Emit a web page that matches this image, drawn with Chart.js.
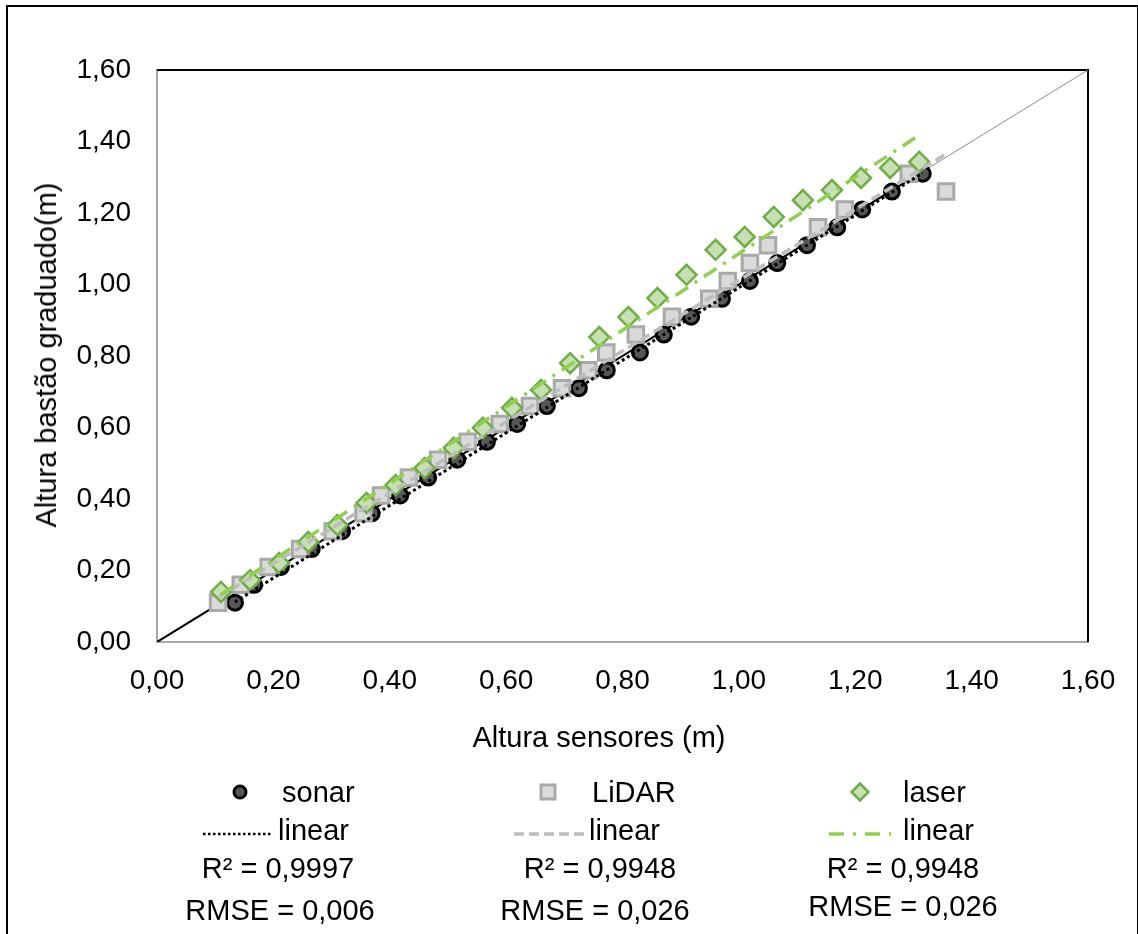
<!DOCTYPE html>
<html>
<head>
<meta charset="utf-8">
<script src="https://cdn.jsdelivr.net/npm/chart.js@4.4.1/dist/chart.umd.min.js"></script>
<style>
  body { margin: 0; background: #fff; font-family: "Liberation Sans", Arial, sans-serif; }
  #wrap { position: relative; width: 1138px; height: 934px; overflow: hidden; }
  #frame { position: absolute; left: 6px; top: 5px; width: 1129px; height: 1000px; border: 2px solid #000; }
  #chart { position: absolute; left: 0; top: 0; }
  .txt { position: absolute; font-size: 29px; line-height: 34px; color: #000; white-space: nowrap; }
  .sym { position: absolute; }
</style>
</head>
<body>
<div id="wrap">
  <div id="frame"></div>
  <canvas id="chart" width="1138" height="934"></canvas>
</div>
<script>
// graduated stick vs sensor readings
const sonarX = [0.134, 0.167, 0.213, 0.266, 0.318, 0.369, 0.418, 0.466, 0.516, 0.567, 0.619, 0.670, 0.725,
  0.773, 0.830, 0.871, 0.918, 0.971, 1.019, 1.066, 1.117, 1.169, 1.212, 1.263, 1.316];
const sonarY = [0.11, 0.16, 0.21, 0.26, 0.31, 0.36, 0.41, 0.46, 0.51, 0.56, 0.61, 0.66, 0.71,
  0.76, 0.81, 0.86, 0.91, 0.96, 1.01, 1.06, 1.11, 1.16, 1.21, 1.26, 1.31];

const lidarX = [0.105, 0.144, 0.192, 0.246, 0.302, 0.355, 0.385, 0.433, 0.483, 0.534, 0.589, 0.641, 0.696,
  0.741, 0.772, 0.823, 0.885, 0.949, 0.981, 1.019, 1.050, 1.136, 1.182, 1.356, 1.292];
const lidarY = [0.11, 0.16, 0.21, 0.26, 0.31, 0.36, 0.41, 0.46, 0.51, 0.56, 0.61, 0.66, 0.71,
  0.76, 0.81, 0.86, 0.91, 0.96, 1.01, 1.06, 1.11, 1.16, 1.21, 1.26, 1.31];

const laserX = [0.11, 0.16, 0.21, 0.26, 0.31, 0.36, 0.41, 0.46, 0.51, 0.56, 0.61, 0.66, 0.71,
  0.76, 0.81, 0.86, 0.91, 0.96, 1.01, 1.06, 1.11, 1.16, 1.21, 1.26, 1.31];
const laserY = [0.140, 0.173, 0.221, 0.280, 0.327, 0.389, 0.439, 0.487, 0.543, 0.599, 0.655, 0.705, 0.780,
  0.853, 0.909, 0.962, 1.027, 1.097, 1.133, 1.189, 1.236, 1.264, 1.298, 1.326, 1.343];

// trend line ends (as drawn in the picture)
const sonarTrendX = [0.134, 1.316];
const sonarTrendY = [0.112, 1.312];
const lidarTrendX = [0.105, 1.356];
const lidarTrendY = [0.125, 1.365];
const laserTrendX = [0.11, 1.31];
const laserTrendY = [0.133, 1.418];

// 1:1 line
const refX = [0, 1.6];
const refY = [0, 1.6];
const refBlackX = [0, 1.31];
const refBlackY = [0, 1.31];

const axisTicks = [0, 0.2, 0.4, 0.6, 0.8, 1.0, 1.2, 1.4, 1.6];

function pts(xs, ys) {
  return xs.map((x, i) => ({ x: x, y: ys[i] }));
}

function fmt(v) {
  return v.toFixed(2).replace(".", ",");
}

const frameLines = {
  id: "frameLines",
  beforeDatasetsDraw(chart) {
    const ctx = chart.ctx;
    const a = chart.chartArea;
    ctx.save();
    ctx.strokeStyle = "#000";
    ctx.lineWidth = 2;
    ctx.beginPath();
    ctx.moveTo(a.left, a.top);
    ctx.lineTo(a.right, a.top);
    ctx.lineTo(a.right, a.bottom);
    ctx.stroke();
    ctx.restore();
  },
};

const tickFont = { family: "'Liberation Sans', Arial, sans-serif", size: 28 };

new Chart(document.getElementById("chart"), {
  type: "scatter",
  data: {
    datasets: [
      {
        data: pts(refX, refY),
        showLine: true,
        borderColor: "#8c8c8c",
        borderWidth: 1,
        pointRadius: 0,
        order: 10,
      },
      {
        data: pts(refBlackX, refBlackY),
        showLine: true,
        borderColor: "#000",
        borderWidth: 2,
        pointRadius: 0,
        order: 9,
      },
      {
        label: "sonar",
        data: pts(sonarX, sonarY),
        pointStyle: "circle",
        pointRadius: 7.5,
        pointBackgroundColor: "#575757",
        pointBorderColor: "#000",
        pointBorderWidth: 3,
        order: 8,
      },
      {
        label: "LiDAR",
        data: pts(lidarX, lidarY),
        pointStyle: "rect",
        pointRadius: 11,
        pointBackgroundColor: "#dadada",
        pointBorderColor: "#a9a9a9",
        pointBorderWidth: 3,
        order: 7,
      },
      {
        label: "laser",
        data: pts(laserX, laserY),
        pointStyle: "rectRot",
        pointRadius: 10,
        pointBackgroundColor: "#c6e0b4",
        pointBorderColor: "#70ad47",
        pointBorderWidth: 2.5,
        order: 6,
      },
      {
        data: pts(sonarTrendX, sonarTrendY),
        showLine: true,
        borderColor: "#000",
        borderWidth: 3,
        borderDash: [3, 3],
        pointRadius: 0,
        order: 3,
      },
      {
        data: pts(lidarTrendX, lidarTrendY),
        showLine: true,
        borderColor: "#bdbdbd",
        borderWidth: 3.5,
        borderDash: [10, 5],
        pointRadius: 0,
        order: 2,
      },
      {
        data: pts(laserTrendX, laserTrendY),
        showLine: true,
        borderColor: "#8fd14f",
        borderWidth: 3.5,
        borderDash: [15, 8, 3, 8],
        pointRadius: 0,
        order: 1,
      },
    ],
  },
  options: {
    responsive: false,
    animation: false,
    layout: { padding: { top: 70, right: 50, bottom: 0, left: 0 } },
    plugins: { legend: { display: false }, tooltip: { enabled: false } },
    scales: {
      x: {
        type: "linear",
        min: 0,
        max: 1.6,
        afterFit: (s) => { s.height = 292; },
        afterBuildTicks: (s) => { s.ticks = axisTicks.map((v) => ({ value: v })); },
        grid: { display: false, drawTicks: false },
        border: { display: true, color: "#a6a6a6", width: 2 },
        ticks: { color: "#000", font: tickFont, padding: 22, maxRotation: 0, callback: (v) => fmt(v) },
      },
      y: {
        type: "linear",
        min: 0,
        max: 1.6,
        afterFit: (s) => { s.width = 157; },
        afterBuildTicks: (s) => { s.ticks = axisTicks.map((v) => ({ value: v })); },
        grid: { display: false, drawTicks: false },
        border: { display: true, color: "#a6a6a6", width: 2 },
        ticks: { color: "#000", font: tickFont, padding: 26, callback: (v) => fmt(v) },
      },
    },
  },
  plugins: [frameLines],
});

// axis titles and legend as plain text
const wrap = document.getElementById("wrap");

function addText(str, x, y, align) {
  let d = document.createElement("div");
  d.className = "txt";
  d.textContent = str;
  d.style.top = y - 17 + "px";
  d.style.left = x + "px";
  if (align !== "left") {
    d.style.transform = "translateX(-50%)";
  }
  wrap.appendChild(d);
  return d;
}

function addSvg(svg, x, y, w, h) {
  let d = document.createElement("div");
  d.className = "sym";
  d.style.left = x + "px";
  d.style.top = y + "px";
  d.innerHTML = `<svg width="${w}" height="${h}" xmlns="http://www.w3.org/2000/svg">${svg}</svg>`;
  wrap.appendChild(d);
}

let yTitle = addText("Altura bastão graduado(m)", 46, 355, "center");
yTitle.style.transform = "translate(-50%, 0) rotate(-90deg)";
addText("Altura sensores (m)", 599, 737, "center");

// legend row 1: markers
addSvg('<circle cx="10" cy="10" r="6" fill="#575757" stroke="#000" stroke-width="3"/>', 230, 782, 20, 20);
addText("sonar", 282, 792, "left");
addSvg('<rect x="3" y="3" width="14" height="14" fill="#dadada" stroke="#a9a9a9" stroke-width="3"/>', 538, 782, 20, 20);
addText("LiDAR", 592, 792, "left");
addSvg('<polygon points="10,1.5 18.5,10 10,18.5 1.5,10" fill="#c6e0b4" stroke="#70ad47" stroke-width="2.5"/>', 850, 782, 20, 20);
addText("laser", 903, 792, "left");

// legend row 2: trend lines
addSvg('<line x1="0" y1="5" x2="70" y2="5" stroke="#000" stroke-width="2.5" stroke-dasharray="2.5,2.5"/>', 203, 825, 70, 10);
addText("linear", 278, 830, "left");
addSvg('<line x1="0" y1="5" x2="72" y2="5" stroke="#bdbdbd" stroke-width="3.5" stroke-dasharray="10,5"/>', 514, 825, 72, 10);
addText("linear", 589, 830, "left");
addSvg('<line x1="0" y1="5" x2="62" y2="5" stroke="#8fd14f" stroke-width="3.5" stroke-dasharray="15,9,3,9"/>', 829, 825, 62, 10);
addText("linear", 903, 830, "left");

// legend rows 3-4: fit stats
addText("R² = 0,9997", 278, 868, "center");
addText("R² = 0,9948", 600, 868, "center");
addText("R² = 0,9948", 903, 868, "center");
addText("RMSE = 0,006", 280, 910, "center");
addText("RMSE = 0,026", 595, 910, "center");
addText("RMSE = 0,026", 903, 906, "center");
</script>
</body>
</html>
